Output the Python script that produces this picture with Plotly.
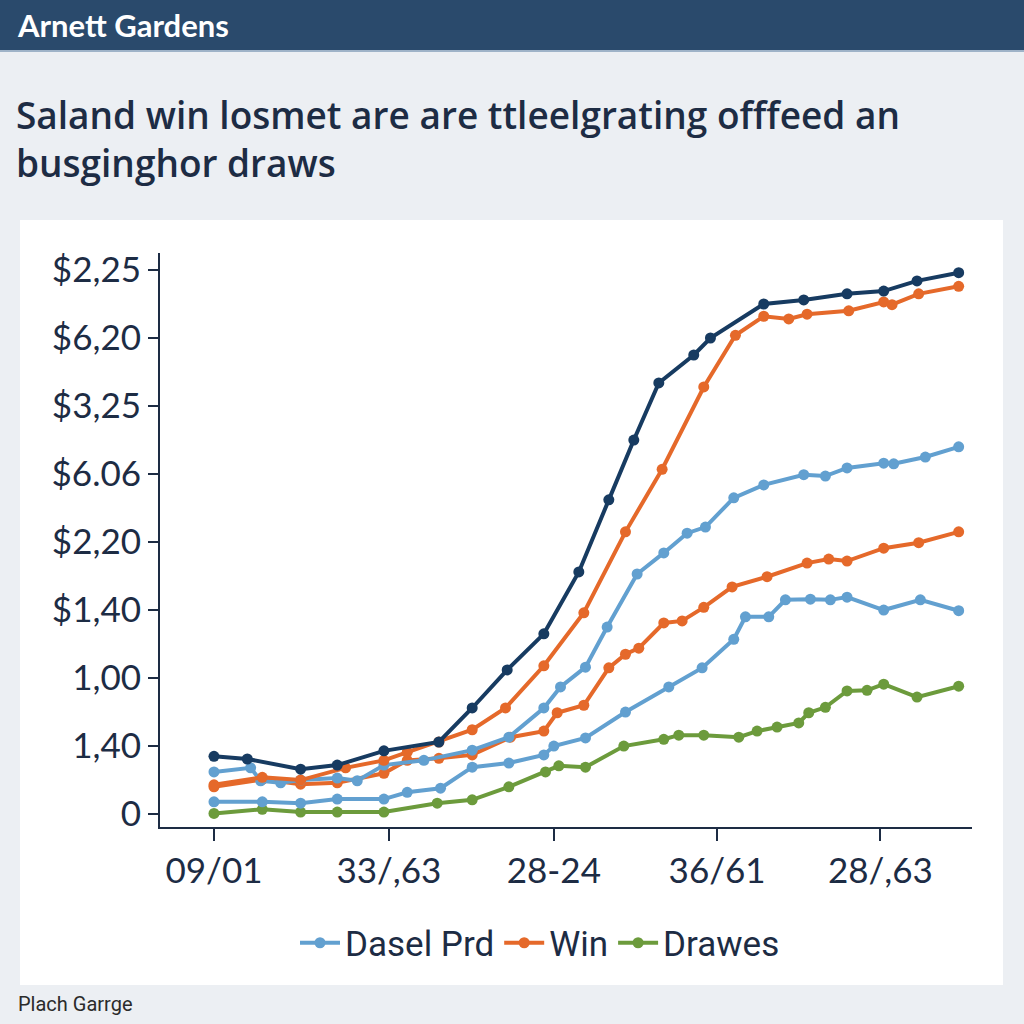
import plotly.graph_objects as go

# ---------------- data ----------------
x_tick_vals = [0, 10.5, 20.4, 30.2, 40]
x_tick_text = ["09/01", "33/,63", "28-24", "36/61", "28/,63"]
y_tick_vals = [0, 1, 2, 3, 4, 5, 6, 7, 8]
y_tick_text = ["0", "1,40", "1,00", "$1,40", "$2,20", "$6.06", "$3,25", "$6,20", "$2,25"]

navy_x = [0, 2.0, 5.2, 7.4, 10.2, 13.5, 15.5, 17.6, 19.8, 21.9, 23.7, 25.2, 26.7, 28.8, 29.8, 33.0, 35.4, 38.0, 40.2, 42.2, 44.7]
navy_y = [0.85, 0.81, 0.66, 0.72, 0.93, 1.06, 1.56, 2.12, 2.65, 3.56, 4.62, 5.50, 6.34, 6.75, 7.00, 7.50, 7.56, 7.65, 7.69, 7.84, 7.96]

win_x = [0, 2.9, 5.2, 7.9, 10.2, 11.6, 13.5, 15.5, 17.5, 19.8, 22.2, 24.7, 26.9, 29.4, 31.3, 33.0, 34.5, 35.6, 38.1, 40.2, 40.7, 42.3, 44.7]
win_y = [0.43, 0.54, 0.50, 0.68, 0.79, 0.91, 1.06, 1.24, 1.56, 2.18, 2.96, 4.15, 5.07, 6.28, 7.04, 7.32, 7.28, 7.35, 7.40, 7.53, 7.49, 7.65, 7.76]

win2_x = [0, 2.9, 5.2, 7.4, 10.2, 11.6, 13.5, 15.5, 17.8, 19.8, 20.6, 22.2, 23.7, 24.7, 25.5, 27.0, 28.1, 29.4, 31.1, 33.2, 35.6, 36.9, 38.0, 40.2, 42.3, 44.7]
win2_y = [0.40, 0.51, 0.44, 0.46, 0.60, 0.79, 0.82, 0.87, 1.13, 1.22, 1.49, 1.60, 2.15, 2.35, 2.44, 2.81, 2.84, 3.04, 3.34, 3.49, 3.69, 3.75, 3.72, 3.91, 3.99, 4.15]

dasel_x = [0, 2.2, 2.8, 4.0, 5.2, 7.4, 8.6, 10.2, 12.6, 15.5, 17.7, 19.8, 20.8, 22.3, 23.6, 25.4, 27.0, 28.4, 29.5, 31.2, 33.0, 35.4, 36.7, 38.0, 40.2, 40.8, 42.7, 44.7]
dasel_y = [0.62, 0.68, 0.49, 0.46, 0.50, 0.53, 0.49, 0.72, 0.79, 0.94, 1.13, 1.56, 1.87, 2.16, 2.75, 3.53, 3.84, 4.13, 4.22, 4.65, 4.84, 4.99, 4.97, 5.09, 5.16, 5.15, 5.25, 5.40]

dasel2_x = [0, 2.9, 5.2, 7.4, 10.2, 11.6, 13.6, 15.5, 17.7, 19.8, 20.4, 22.3, 24.7, 27.3, 29.3, 31.2, 31.9, 33.3, 34.3, 35.8, 37.0, 38.0, 40.2, 42.4, 44.7]
dasel2_y = [0.18, 0.18, 0.16, 0.22, 0.22, 0.32, 0.38, 0.69, 0.75, 0.87, 1.00, 1.12, 1.50, 1.87, 2.15, 2.57, 2.90, 2.90, 3.15, 3.16, 3.15, 3.19, 3.00, 3.15, 2.99]

draws_x = [0, 2.9, 5.2, 7.4, 10.2, 13.4, 15.5, 17.7, 19.9, 20.7, 22.3, 24.6, 27.0, 27.9, 29.4, 31.5, 32.6, 33.8, 35.1, 35.7, 36.7, 38.0, 39.2, 40.2, 42.2, 44.7]
draws_y = [0.01, 0.07, 0.03, 0.03, 0.03, 0.16, 0.21, 0.40, 0.62, 0.71, 0.69, 1.00, 1.10, 1.16, 1.16, 1.13, 1.22, 1.28, 1.34, 1.49, 1.57, 1.81, 1.82, 1.91, 1.72, 1.88]

NAVY = "#173b61"
ORANGE = "#e5692a"
LBLUE = "#62a0d0"
GREEN = "#6c9b3c"
INK = "#1d2c44"

W, H = 1024, 1024
ML, MR, MT, MB = 160, 52, 253, 197
PW, PH = W - ML - MR, H - MT - MB


def px2x(px):
    return (px - ML) / PW


def py2y(py):
    return (H - MB - py) / PH


fig = go.Figure()


def add(x, y, color, name, show):
    fig.add_trace(go.Scatter(
        x=x, y=y, mode="lines+markers", name=name, showlegend=show,
        line=dict(color=color, width=4),
        marker=dict(color=color, size=11),
    ))


add(draws_x, draws_y, GREEN, "Drawes", False)
add(dasel2_x, dasel2_y, LBLUE, "Dasel Prd 2", False)
add(win2_x, win2_y, ORANGE, "Win 2", False)
add(dasel_x, dasel_y, LBLUE, "Dasel Prd", True)
add(win_x, win_y, ORANGE, "Win", True)
add(navy_x, navy_y, NAVY, "Total", False)
# legend-only entry for Drawes in correct order
fig.add_trace(go.Scatter(x=[None], y=[None], mode="lines+markers", name="Drawes",
                         line=dict(color=GREEN, width=4), marker=dict(color=GREEN, size=11)))

shapes = [
    dict(type="rect", xref="paper", yref="paper", layer="below",
         x0=px2x(20), x1=px2x(1003), y0=py2y(985), y1=py2y(220),
         fillcolor="white", line=dict(width=0)),
    dict(type="rect", xref="paper", yref="paper", layer="below",
         x0=px2x(0), x1=px2x(1024), y0=py2y(50), y1=py2y(0),
         fillcolor="#2a4a6c", line=dict(width=0)),
    dict(type="line", xref="paper", yref="paper", layer="below",
         x0=px2x(0), x1=px2x(1024), y0=py2y(51), y1=py2y(51),
         line=dict(color="#9fb3c8", width=2)),
]

annotations = [
    dict(text="Arnett Gardens", xref="paper", yref="paper", x=px2x(15), y=py2y(25),
         xanchor="left", yanchor="middle", showarrow=False,
         font=dict(family="Lato", size=31, color="white", weight=700)),
    dict(text="Saland win losmet are are ttleelgrating offfeed an<br>busginghor draws",
         xref="paper", yref="paper", x=px2x(14), y=py2y(138),
         xanchor="left", yanchor="middle", align="left", showarrow=False,
         font=dict(family="Open Sans", size=37, color=INK, weight=600)),
    dict(text="Plach Garrge", xref="paper", yref="paper", x=px2x(16), y=py2y(1004),
         xanchor="left", yanchor="middle", showarrow=False,
         font=dict(family="Roboto", size=20, color="#2b2b2b")),
]

TICKFONT = dict(family="Lato", size=35, color=INK)

fig.update_layout(
    width=W, height=H,
    margin=dict(l=ML, r=MR, t=MT, b=MB, pad=0),
    paper_bgcolor="#eceff3",
    plot_bgcolor="white",
    shapes=shapes,
    annotations=annotations,
    showlegend=True,
    legend=dict(orientation="h", x=px2x(540), xanchor="center", y=py2y(943), yanchor="middle",
                font=dict(family="Roboto", size=35, color=INK),
                bgcolor="rgba(0,0,0,0)", itemwidth=40, tracegroupgap=0),
    xaxis=dict(range=[-3.24, 45.5], tickvals=x_tick_vals, ticktext=x_tick_text,
               showgrid=False, zeroline=False, showline=True, linecolor=INK, linewidth=2,
               ticks="outside", ticklen=12, tickwidth=2, tickcolor=INK, tickfont=TICKFONT,
               fixedrange=True),
    yaxis=dict(range=[-0.19, 8.25], tickvals=y_tick_vals, ticktext=y_tick_text,
               showgrid=False, zeroline=False, showline=True, linecolor=INK, linewidth=2,
               ticks="outside", ticklen=10, tickwidth=2, tickcolor=INK, tickfont=TICKFONT,
               fixedrange=True),
)

fig.write_html("out.html", config={"displayModeBar": False},
               post_script="document.body.style.margin='0';document.body.style.overflow='hidden';")
